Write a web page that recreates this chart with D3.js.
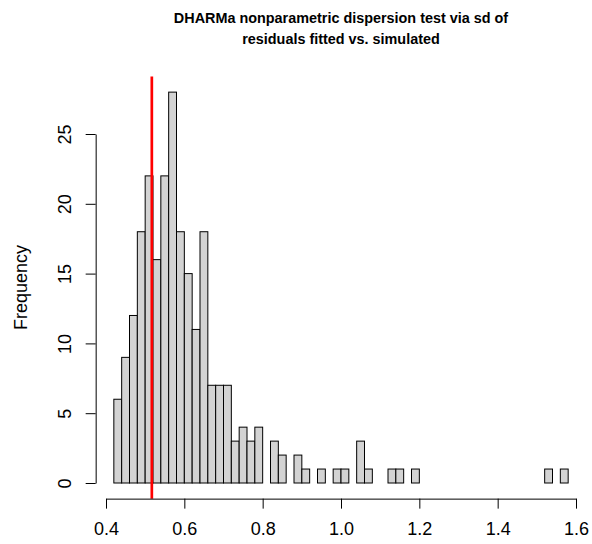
<!DOCTYPE html>
<html>
<head>
<meta charset="utf-8">
<script src="https://cdn.jsdelivr.net/npm/d3@7"></script>
<style>
  html, body { margin: 0; padding: 0; background: #fff; }
  svg { display: block; font-family: "Liberation Sans", Arial, Helvetica, sans-serif; }
</style>
</head>
<body>
<svg id="chart" width="592" height="544"></svg>
<script>
// Histogram of simulated residual SDs (bin width 0.02, first edge 0.42)
const binStart = 0.42;
const binWidth = 0.02;
const counts = [
  6, 9, 12, 18, 22, 16, 22, 28, 18, 15,
  11, 18, 7, 7, 7, 3, 4, 3, 4, 0,
  3, 2, 0, 2, 1, 0, 1, 0, 1, 1,
  0, 3, 1, 0, 0, 1, 1, 0, 1, 0,
  0, 0, 0, 0, 0, 0, 0, 0, 0, 0,
  0, 0, 0, 0, 0, 1, 0, 1
];
const observed = 0.517;
const xTicks = [0.4, 0.6, 0.8, 1.0, 1.2, 1.4, 1.6];
const yTicks = [0, 5, 10, 15, 20, 25];
const titleLines = [
  "DHARMa nonparametric dispersion test via sd of",
  "residuals fitted vs. simulated"
];
const yLabel = "Frequency";

const svg = d3.select("#chart");

// Scales: axis spans first to last tick, plot region padded 4% like base graphics
const x = d3.scaleLinear().domain([0.4, 1.6]).range([106, 576]);
const y = d3.scaleLinear().domain([0, 25]).range([483, 134]);

const bins = counts.map((c, i) => ({
  x0: binStart + i * binWidth,
  x1: binStart + (i + 1) * binWidth,
  n: c
}));

const dataMin = bins[0].x0, dataMax = bins[bins.length - 1].x1;
const padX = (dataMax - dataMin) * 0.04;
const maxN = d3.max(counts);
const padY = maxN * 0.04;
const plotLeft = x(dataMin - padX), plotRight = x(dataMax + padX);
const plotTop = y(maxN + padY), plotBottom = y(-padY);

// Bars (empty bins collapse to a line on the baseline)
svg.append("g")
  .selectAll("rect")
  .data(bins)
  .join("rect")
  .attr("x", d => x(d.x0))
  .attr("width", d => x(d.x1) - x(d.x0))
  .attr("y", d => y(d.n))
  .attr("height", d => y(0) - y(d.n))
  .attr("fill", "#d3d3d3")
  .attr("stroke", "#000")
  .attr("stroke-width", 1);

// Observed value
svg.append("line")
  .attr("x1", x(observed)).attr("x2", x(observed))
  .attr("y1", plotTop).attr("y2", plotBottom)
  .attr("stroke", "#ff0000")
  .attr("stroke-width", 2.7);

// X axis
const xAxis = svg.append("g")
  .attr("transform", `translate(0,${plotBottom})`)
  .call(d3.axisBottom(x).tickValues(xTicks).tickFormat(d3.format(".1f"))
    .tickSize(10).tickSizeOuter(0).tickPadding(14));
xAxis.selectAll("text")
  .attr("font-size", 18).attr("font-family", "Liberation Sans, Arial, sans-serif")
  .attr("fill", "#000");
xAxis.selectAll("line, path").attr("stroke", "#000");

// Y axis with labels parallel to the axis
const yAxis = svg.append("g")
  .attr("transform", `translate(${plotLeft},0)`)
  .call(d3.axisLeft(y).tickValues(yTicks).tickSize(10).tickSizeOuter(0));
yAxis.selectAll("line, path").attr("stroke", "#000");
yAxis.selectAll(".tick text")
  .attr("font-size", 18).attr("font-family", "Liberation Sans, Arial, sans-serif")
  .attr("fill", "#000")
  .attr("x", null).attr("dy", null)
  .attr("text-anchor", "middle")
  .attr("transform", `translate(${71 - plotLeft},0) rotate(-90)`);

// Y axis title
svg.append("text")
  .attr("transform", `translate(27,${(plotTop + plotBottom) / 2}) rotate(-90)`)
  .attr("text-anchor", "middle")
  .attr("font-size", 18)
  .attr("fill", "#000")
  .text(yLabel);

// Main title
svg.append("g")
  .selectAll("text")
  .data(titleLines)
  .join("text")
  .attr("x", (plotLeft + plotRight) / 2)
  .attr("y", (d, i) => 22.7 + i * 21.3)
  .attr("text-anchor", "middle")
  .attr("font-size", 14.4)
  .attr("font-weight", "bold")
  .attr("fill", "#000")
  .text(d => d);
</script>
</body>
</html>
